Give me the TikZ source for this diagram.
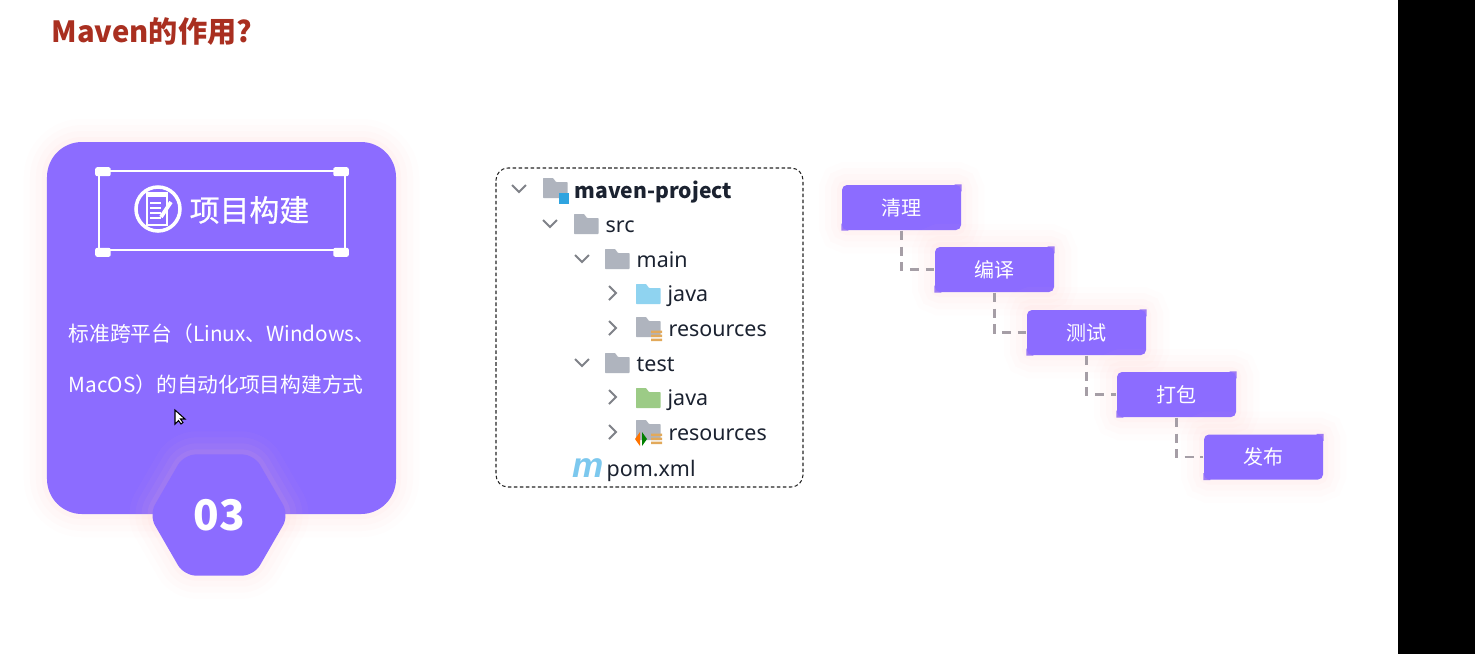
\documentclass[tikz,border=0pt]{standalone}
\usepackage{fontspec}
\setmainfont{Noto Sans CJK SC}
\newfontfamily\treefont{Noto Sans}
\newfontfamily\pomfont{Liberation Sans}
\newfontfamily\midfont[FakeBold=.6]{Noto Sans CJK SC}
\usetikzlibrary{shapes.geometric}
\definecolor{cardviolet}{HTML}{8C6CFF}
\definecolor{glowpink}{HTML}{FFC4C0}
\definecolor{titlered}{HTML}{A92F20}
\definecolor{foldergray}{HTML}{AFB4BE}
\definecolor{chevgray}{HTML}{7F8288}
\definecolor{treeink}{HTML}{1B2230}
\definecolor{resorange}{HTML}{E2A95A}
\definecolor{javablue}{HTML}{8FD3F0}
\definecolor{javagreen}{HTML}{9CCB86}
\definecolor{pomblue}{HTML}{7CC8EE}
\definecolor{squareblue}{HTML}{2FA4E0}
\definecolor{dashgray}{HTML}{A59EA6}
\tikzset{
  glow/.style={
    preaction={draw=glowpink,draw opacity=.03,line width=.46cm},
    preaction={draw=glowpink,draw opacity=.04,line width=.34cm},
    preaction={draw=glowpink,draw opacity=.05,line width=.22cm},
    preaction={draw=glowpink,draw opacity=.07,line width=.10cm}},
  cardbox/.style={glow,fill=cardviolet,rounded corners=.35cm,minimum width=3.49cm,minimum height=3.72cm,inner sep=0},
  framebox/.style={draw=white,line width=.45pt,minimum width=2.46cm,minimum height=.79cm,inner sep=0},
  hexbox/.style={glow,fill=cardviolet,regular polygon,regular polygon sides=6,
    minimum size=1.40cm,rounded corners=.12cm,inner sep=0,text=white,font=\fontsize{12}{14}\selectfont\bfseries},
  stepbox/.style={glow,fill=cardviolet,rounded corners=.05cm,minimum width=1.19cm,minimum height=.45cm,inner sep=0,
    text=white,font=\fontsize{5.7}{7}\selectfont,
    append after command={\pgfextra{\fill[cardviolet] (\tikzlastnode.north east) rectangle +(-.07,-.07)
      (\tikzlastnode.south west) rectangle +(.07,.07);}}},
  stepline/.style={draw=dashgray,line width=.6pt,dash pattern=on 2.6pt off 1.9pt},
  treebox/.style={draw=black!85,dashed,line width=.3pt,dash pattern=on 1pt off .7pt,rounded corners=.12cm,
    minimum width=3.07cm,minimum height=3.19cm,inner sep=0},
  treetext/.style={anchor=west,inner sep=0,text height=.21cm,text depth=.05cm,text=treeink,font=\fontsize{6.1}{8}\selectfont\treefont},
  chev/.style={draw=chevgray,line width=.55pt}
}
\newcommand{\foldericon}[3]{\fill[#3,rounded corners=.2pt] (#1,#2) ++(0,-.1) -- ++(0,.2) -- ++(.1,0) -- ++(.03,-.04) -- ++(.115,0) -- ++(0,-.16) -- cycle;}
\newcommand{\chevdown}[2]{\draw[chev] (#1,#2) ++(-.07,.04) -- ++(.07,-.07) -- ++(.07,.07);}
\newcommand{\chevright}[2]{\draw[chev] (#1,#2) ++(-.03,.07) -- ++(.07,-.07) -- ++(-.07,-.07);}
\newcommand{\resbars}[2]{\fill[resorange] (#1,#2) rectangle ++(.11,.025) (#1,#2) ++(0,.04) rectangle ++(.11,.025) (#1,#2) ++(0,.08) rectangle ++(.11,.025);}
\begin{document}
\begin{tikzpicture}
\useasboundingbox (0,0) rectangle (14.75,6.54);
\fill[white] (0,0) rectangle (13.98,6.54);
\fill[black] (13.98,0) rectangle (14.75,6.54);

\node[anchor=west,inner sep=0,text=titlered,font=\fontsize{8.3}{10}\selectfont\bfseries] (title) at (.51,6.23) {Maven的作用?};

\node[cardbox] (card) at (2.215,3.26) {};
\node[framebox] (frame) at (2.22,4.435) {};
\fill[white,rounded corners=.02cm] (frame.north west) ++(-.03,.03) rectangle ++(.155,-.09);
\fill[white,rounded corners=.02cm] (frame.north east) ++(.03,.03) rectangle ++(-.155,-.09);
\fill[white,rounded corners=.02cm] (frame.south west) ++(-.03,.03) rectangle ++(.155,-.09);
\fill[white,rounded corners=.02cm] (frame.south east) ++(.03,.03) rectangle ++(-.155,-.09);

\node[circle,draw=white,line width=1pt,minimum size=.44cm,inner sep=0] (noteicon) at (1.58,4.45) {};
\draw[white,line width=.4pt] (1.47,4.61) rectangle (1.67,4.29);
\fill[white] (1.47,4.61) rectangle (1.67,4.57);
\foreach \ny in {4.51,4.46,4.41,4.36}
  \draw[white,line width=.45pt] (1.50,\ny) -- (1.61,\ny);
\draw[white,line width=1.1pt] (1.61,4.37) -- (1.71,4.52);
\node[anchor=west,inner sep=0,text=white,font=\fontsize{8.5}{10}\selectfont\midfont] (buildtitle) at (1.89,4.44) {项目构建};

\node[anchor=west,inner sep=0,text=white,align=left,font=\fontsize{5.9}{14.5}\selectfont] (buildtext) at (.68,2.95)
  {标准跨平台（Linux、Windows、\\MacOS）的自动化项目构建方式};

\fill[white,draw=black,line width=.3pt] (1.75,2.44) -- (1.75,2.30) -- (1.785,2.335) -- (1.81,2.30) -- (1.83,2.315) -- (1.805,2.35) -- (1.85,2.35) -- cycle;

\node[hexbox] (badge) at (2.19,1.39) {03};

\node[treebox] (tree) at (6.495,3.265) {};
\chevdown{5.19}{4.65}
\foldericon{5.43}{4.66}{foldergray}
\fill[squareblue] (5.59,4.50) rectangle (5.69,4.61);
\node[treetext,font=\fontsize{6}{8}\selectfont\bfseries] (project) at (5.74,4.64) {maven-project};
\chevdown{5.50}{4.30}
\foldericon{5.74}{4.30}{foldergray}
\node[treetext] (src) at (6.05,4.30) {src};
\chevdown{5.82}{3.95}
\foldericon{6.05}{3.95}{foldergray}
\node[treetext] (main) at (6.36,3.95) {main};
\chevright{6.12}{3.61}
\foldericon{6.36}{3.60}{javablue}
\node[treetext] (mainjava) at (6.67,3.61) {java};
\chevright{6.12}{3.26}
\foldericon{6.36}{3.27}{foldergray}
\resbars{6.51}{3.13}
\node[treetext] (mainres) at (6.68,3.26) {resources};
\chevdown{5.82}{2.91}
\foldericon{6.05}{2.91}{foldergray}
\node[treetext] (test) at (6.36,2.91) {test};
\chevright{6.12}{2.57}
\foldericon{6.36}{2.56}{javagreen}
\node[treetext] (testjava) at (6.67,2.57) {java};
\chevright{6.12}{2.22}
\foldericon{6.36}{2.24}{foldergray}
\resbars{6.51}{2.10}
\fill[orange!90!red] (6.40,2.22) -- (6.40,2.08) -- (6.35,2.15) -- cycle;
\fill[green!50!black] (6.42,2.22) -- (6.42,2.08) -- (6.47,2.15) -- cycle;
\node[treetext] (testres) at (6.68,2.22) {resources};
\node[anchor=west,inner sep=0,text=pomblue,font=\fontsize{10}{12}\selectfont\pomfont\bfseries\itshape] (pomicon) at (5.72,1.86) {m};
\node[treetext] (pom) at (6.06,1.86) {pom.xml};

\node[stepbox] (clean) at (9.015,4.465) {清理};
\node[stepbox] (compile) at (9.945,3.845) {编译};
\node[stepbox] (testing) at (10.865,3.215) {测试};
\node[stepbox] (package) at (11.765,2.595) {打包};
\node[stepbox] (publish) at (12.635,1.97) {发布};

\draw[stepline] (clean) |- (compile);
\draw[stepline] (compile) |- (testing);
\draw[stepline] (testing) |- (package);
\draw[stepline] (package) |- (publish);
\end{tikzpicture}
\end{document}
